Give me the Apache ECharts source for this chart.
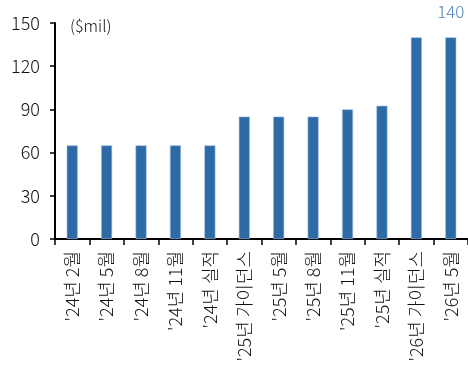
<!DOCTYPE html>
<html>
<head>
<meta charset="utf-8">
<script src="https://cdn.jsdelivr.net/npm/echarts@6/dist/echarts.min.js"></script>
<style>
  html, body { margin: 0; padding: 0; background: #fff; }
  #chart { width: 468px; height: 369px; }
</style>
</head>
<body>
<div id="chart"></div>
<script>
// Guidance history (unit: $ million)
const categories = [
  "'24년 2월", "'24년 5월", "'24년 8월", "'24년 11월", "'24년 실적",
  "'25년 가이던스", "'25년 5월", "'25년 8월", "'25년 11월", "'25년 실적",
  "'26년 가이던스", "'26년 5월"
];
const values = [65, 65, 65, 65, 65, 85, 85, 85, 90, 92.5, 140, 140];
const yTicks = [0, 30, 60, 90, 120, 150];
const labelledIndex = 11;

const FONT = '"Noto Sans CJK KR", "Noto Sans", sans-serif';

const chart = echarts.init(document.getElementById('chart'));
chart.setOption({
  animation: false,
  grid: { left: 55, right: 0, top: 23, bottom: 130 },
  graphic: [{
    type: 'text',
    left: 70, top: 18,
    style: { text: '($mil)', font: '300 16px ' + FONT, fill: '#111' }
  }],
  xAxis: {
    type: 'category',
    data: categories,
    boundaryGap: true,
    axisLine: { lineStyle: { color: '#000', width: 2 } },
    axisTick: { show: true, length: 6, lineStyle: { color: '#000', width: 1.5 } },
    axisLabel: {
      rotate: 90, interval: 0, margin: 12,
      color: '#111', fontSize: 18, fontWeight: 300, fontFamily: FONT
    }
  },
  yAxis: {
    type: 'value',
    min: yTicks[0], max: yTicks[yTicks.length - 1], interval: 30,
    splitLine: { show: false },
    axisLine: { show: true, lineStyle: { color: '#000', width: 2 } },
    axisTick: { show: true, length: 5, lineStyle: { color: '#000', width: 1.5 } },
    axisLabel: { color: '#111', fontSize: 18, fontWeight: 300, fontFamily: FONT, margin: 15 }
  },
  series: [{
    type: 'bar',
    data: values.map((v, i) => ({
      value: v,
      label: {
        show: i === labelledIndex,
        position: 'top',
        distance: 17,
        color: '#4f80bd',
        fontSize: 17,
        fontWeight: 300,
        fontFamily: FONT
      }
    })),
    barWidth: 11,
    itemStyle: { color: '#2d6aa6', borderColor: '#9cbbe0', borderWidth: 0.6 }
  }]
});
</script>
</body>
</html>
